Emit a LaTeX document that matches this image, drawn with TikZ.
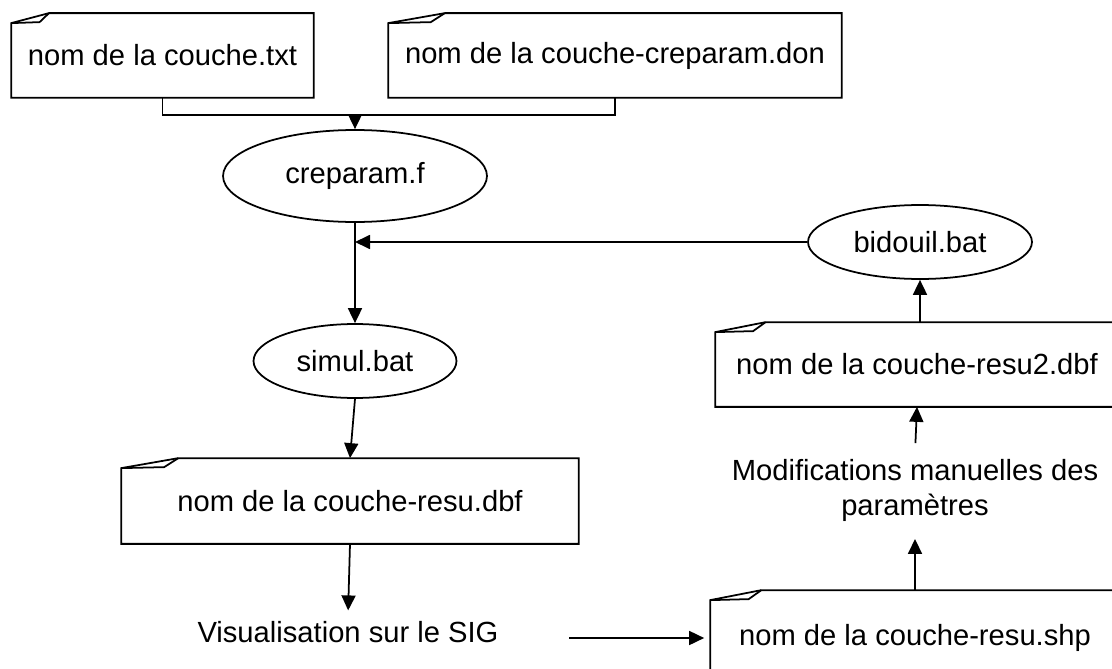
\documentclass[tikz,border=0pt]{standalone}
\usepackage{fontspec}
\setmainfont{Liberation Sans}
\usetikzlibrary{arrows.meta,shapes.geometric,calc}

% outline of a file box with a folded top-left corner
\newcommand{\foldedbox}[1]{%
  \draw ([yshift=-0.2cm]#1.north west) -- ($(#1.north west)!0.125!(#1.north east)$) -- (#1.north east) -- (#1.south east) -- (#1.south west) -- cycle;
  \draw ([yshift=-0.2cm]#1.north west) -- ([yshift=-0.18cm]$(#1.north west)!0.094!(#1.north east)$) -- ($(#1.north west)!0.125!(#1.north east)$);}

\begin{document}
\begin{tikzpicture}[x=0.02cm, y=-0.02cm, line width=1pt,
  every node/.style={font=\fontsize{16.6}{19.9}\selectfont},
  doc/.style={inner sep=0pt},
  prog/.style={draw, ellipse, inner sep=0pt},
  note/.style={inner sep=0.1cm, align=center},
  arr/.style={-{Triangle[length=0.3cm,width=0.28cm]}}]
  \useasboundingbox (0,0) rectangle (1112,669);
  \clip (0,0) rectangle (1112,669);

  % files
  \node[doc, minimum width=6.02cm, minimum height=1.66cm] (txt) at (162.5,55.5) {nom de la couche.txt};
  \node[doc, minimum width=9.04cm, minimum height=1.66cm] (don) at (615,55.5) {nom de la couche-creparam.don};
  \node[doc, minimum width=9.12cm, minimum height=1.68cm] (dbf) at (350,501) {nom de la couche-resu.dbf};
  \node[doc, minimum width=8.04cm, minimum height=1.66cm] (dbftwo) at (917,364.5) {nom de la couche-resu2.dbf};
  \node[doc, minimum width=8.16cm, minimum height=1.88cm] (shp) at (915,638) {nom de la couche-resu.shp};
  \foldedbox{txt}
  \foldedbox{don}
  \foldedbox{dbf}
  \foldedbox{dbftwo}
  \foldedbox{shp}

  % programs
  \node[prog, minimum width=5.28cm, minimum height=1.84cm] (crep) at (355,176) {creparam.f};
  \node[prog, minimum width=4.06cm, minimum height=1.48cm] (simul) at (355,361) {simul.bat};
  \node[prog, minimum width=4.48cm, minimum height=1.48cm] (bid) at (920,242) {bidouil.bat};

  % steps
  \node[note] (vis) at (348,632) {Visualisation sur le SIG};
  \node[note] (modif) at (915,490) {Modifications manuelles des\\paramètres};

  \coordinate (join) at (355,115);
  \draw (txt.south) |- (join);
  \draw (don.south) |- (join);
  \draw[arr] (join) -- (crep.north);
  \draw[arr] (crep.south) -- (simul.north);
  \draw[arr] (bid.west) -- (crep.south |- bid.west);
  \draw[arr] (simul.south) -- (dbf.north);
  \draw[arr, shorten >=0.1cm] (dbf.south) -- (vis.north);
  \draw[arr, shorten <=1.3cm, shorten >=0.12cm] (vis.east |- shp.west) -- (shp.west);
  \draw[arr, shorten >=0.24cm] (shp.north) -- (modif.south);
  \draw[arr, shorten <=0.2cm] (modif.north) -- (dbftwo.south);
  \draw[arr] (dbftwo.north -| bid.south) -- (bid.south);
\end{tikzpicture}
\end{document}
